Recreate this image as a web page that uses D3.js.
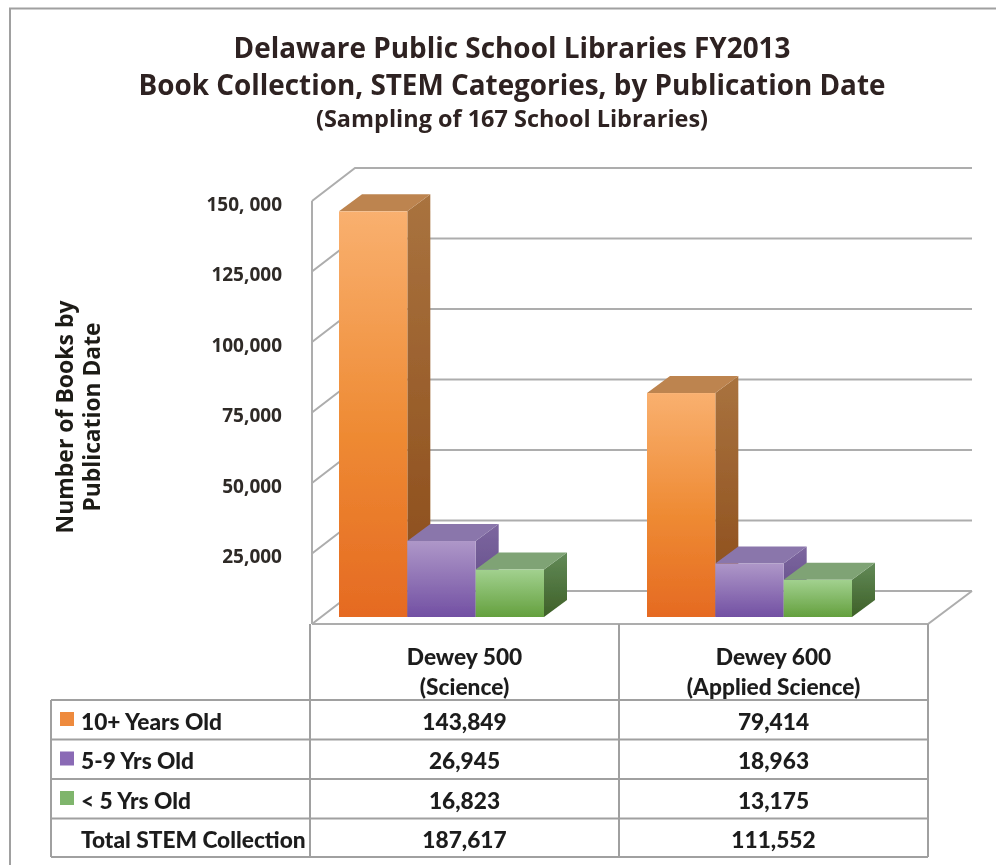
<!DOCTYPE html>
<html>
<head>
<meta charset="utf-8">
<script src="https://cdn.jsdelivr.net/npm/d3@7"></script>
<style>
  html, body { margin: 0; padding: 0; background: #fff; }
  svg { display: block; }
  text { font-family: "Open Sans", sans-serif; }
</style>
</head>
<body>
<script>
var categories = ["Dewey 500", "Dewey 600"];
var categorySubs = ["(Science)", "(Applied Science)"];
var seriesNames = ["10+ Years Old", "5-9 Yrs Old", "< 5 Yrs Old"];
var older = [143849, 79414];
var middle = [26945, 18963];
var newer = [16823, 13175];
var totals = [187617, 111552];
var tickValues = [25000, 50000, 75000, 100000, 125000, 150000];
var tickLabels = ["25,000", "50,000", "75,000", "100,000", "125,000", "150, 000"];

var w = 996, h = 865;
var depthX = 43, depthY = 33;   // floor depth of the 3d box
var barDX = 23, barDY = 17;     // depth of one bar
var floorY = 624, plotL = 312, plotR = 928;
var rows = [700, 739.5, 779, 818.5, 857];
var cols = [51, 310, 619, 928];
var barBase = 617;

var yScale = d3.scaleLinear().domain([0, 150000]).range([floorY, 201]);
var hScale = d3.scaleLinear().domain([0, 150000]).range([0, floorY - 201]);
var xCat = d3.scaleBand().domain(d3.range(2)).range([339, 955]);
var xSer = d3.scaleBand().domain(d3.range(3)).range([0, 205]);

var svg = d3.select("body").append("svg").attr("width", w).attr("height", h);

var defs = svg.append("defs");
defs.append("filter").attr("id", "soft").attr("x", "-5%").attr("y", "-5%").attr("width", "110%").attr("height", "110%")
    .append("feGaussianBlur").attr("stdDeviation", 0.7);

function grad(id, stops) {
    var g = defs.append("linearGradient").attr("id", id)
        .attr("x1", 0).attr("y1", 0).attr("x2", 0).attr("y2", 1);
    stops.forEach(function(s) {
        g.append("stop").attr("offset", s[0]).attr("stop-color", s[1]);
    });
}
var palette = [
    {front: [[0, "#f9b06f"], [0.55, "#ee8a33"], [1, "#e56a22"]], side: [[0, "#a9733f"], [1, "#8a4a18"]], top: "#bd844f", key: "#ee8a3c"},
    {front: [[0, "#ae97c8"], [1, "#7250a3"]], side: [[0, "#7d679f"], [1, "#5b4484"]], top: "#8a76ab", key: "#8a6bb5"},
    {front: [[0, "#a2d18f"], [1, "#64a03e"]], side: [[0, "#628a58"], [1, "#3e6027"]], top: "#7fa375", key: "#7fb56c"}
];
palette.forEach(function(p, i) {
    grad("front" + i, p.front);
    grad("side" + i, p.side);
});

var root = svg.append("g").attr("filter", "url(#soft)");

// outer frame
root.append("path").attr("d", "M10,865V8.5H996").attr("fill", "none").attr("stroke", "#a0a0a0").attr("stroke-width", 2);

// titles
var titleLines = [
    {t: "Delaware Public School Libraries FY2013", y: 58, s: 29, len: 557},
    {t: "Book Collection, STEM Categories, by Publication Date", y: 95, s: 29, len: 747},
    {t: "(Sampling of 167 School Libraries)", y: 127, s: 22.5, len: 392}
];
root.selectAll("text.title").data(titleLines).enter().append("text")
    .attr("class", "title")
    .attr("x", 512).attr("y", function(d) { return d.y; })
    .attr("text-anchor", "middle")
    .attr("font-size", function(d) { return d.s + "px"; })
    .attr("font-weight", 700)
    .attr("textLength", function(d) { return d.len; })
    .attr("lengthAdjust", "spacingAndGlyphs")
    .attr("fill", "#2f2420")
    .text(function(d) { return d.t; });

// 3d box: gridlines
var wall = root.append("g").attr("fill", "none").attr("stroke", "#adadad").attr("stroke-width", 2);
[0].concat(tickValues).forEach(function(v) {
    var y = yScale(v);
    wall.append("path").attr("d", "M" + plotL + "," + y + "L" + (plotL + depthX) + "," + (y - depthY) + "H972");
});
wall.append("path").attr("d", "M" + plotL + "," + yScale(150000) + "V" + floorY);
wall.append("path").attr("d", "M" + plotL + "," + floorY + "H" + plotR + "L972," + (floorY - depthY));

// bars
var series = [older, middle, newer];
var barData = [];
categories.forEach(function(c, ci) {
    series.forEach(function(vals, si) {
        barData.push({ci: ci, si: si, v: vals[ci]});
    });
});
function barX(d) { return xCat(d.ci) + xSer(d.si); }
function barW() { return xSer.bandwidth(); }
function barTop(d) { return barBase - hScale(d.v); }

var bars = root.selectAll("g.bar").data(barData).enter().append("g").attr("class", "bar");
bars.append("path")
    .attr("fill", function(d) { return "url(#side" + d.si + ")"; })
    .attr("d", function(d) {
        var r = barX(d) + barW();
        return "M" + r + "," + barTop(d) + "l" + barDX + "," + (-barDY) + "V" + (barBase - barDY) + "l" + (-barDX) + "," + barDY + "Z";
    });
bars.append("path")
    .attr("fill", function(d) { return palette[d.si].top; })
    .attr("d", function(d) {
        return "M" + barX(d) + "," + barTop(d) + "l" + barDX + "," + (-barDY) + "h" + barW() + "l" + (-barDX) + "," + barDY + "Z";
    });
bars.append("rect")
    .attr("x", barX).attr("y", barTop)
    .attr("width", barW()).attr("height", function(d) { return hScale(d.v); })
    .attr("fill", function(d) { return "url(#front" + d.si + ")"; });

// y axis labels
var yAxis = d3.axisLeft(yScale).tickValues(tickValues).tickSize(0)
    .tickFormat(function(d, i) { return tickLabels[i]; });
var axisG = root.append("g").attr("transform", "translate(282,3)").call(yAxis);
axisG.select(".domain").remove();
axisG.selectAll("text")
    .attr("x", 0).attr("text-anchor", "end")
    .attr("font-family", "'Open Sans', sans-serif")
    .attr("font-size", "19px").attr("font-weight", 700)
    .attr("fill", "#2f2a28");

// y axis title
var yTitle = root.append("g").attr("transform", "translate(0,417) rotate(-90)")
    .attr("text-anchor", "middle").attr("font-size", "24px").attr("font-weight", 700).attr("fill", "#1f1a18");
yTitle.append("text").attr("x", 0).attr("y", 73).attr("textLength", 233).attr("lengthAdjust", "spacingAndGlyphs").text("Number of Books by");
yTitle.append("text").attr("x", 0).attr("y", 100).attr("textLength", 189).attr("lengthAdjust", "spacingAndGlyphs").text("Publication Date");

// table grid
var grid = root.append("g").attr("fill", "none").attr("stroke", "#a0a0a0").attr("stroke-width", 2);
rows.forEach(function(y) {
    grid.append("line").attr("x1", cols[0]).attr("x2", cols[3]).attr("y1", y).attr("y2", y);
});
grid.append("line").attr("x1", cols[0]).attr("x2", cols[0]).attr("y1", rows[0]).attr("y2", rows[4]);
cols.slice(1).forEach(function(x) {
    grid.append("line").attr("x1", x).attr("x2", x).attr("y1", floorY).attr("y2", rows[4]);
});

// table text
var cellFont = "Lato, 'Open Sans', sans-serif";
var colMid = d3.scaleBand().domain(d3.range(2)).range([cols[1], cols[3]]);
function cell(sel) {
    return sel.style("font-family", cellFont)
        .attr("font-size", "22.7px").attr("font-weight", 900).attr("fill", "#1c1c1c");
}
categories.forEach(function(c, i) {
    var x = colMid(i) + colMid.bandwidth() / 2;
    cell(root.append("text")).attr("x", x).attr("y", 665).attr("text-anchor", "middle").text(c);
    cell(root.append("text")).attr("x", x).attr("y", 695).attr("text-anchor", "middle").text(categorySubs[i]);
});

var rowNames = seriesNames.concat(["Total STEM Collection"]);
var rowVals = [older, middle, newer, totals];
var fmt = d3.format(",");
rowNames.forEach(function(name, r) {
    var y = rows[r] + 29.5;
    if (r < 3) {
        root.append("rect").attr("x", 60).attr("y", rows[r] + 12).attr("width", 14).attr("height", 14)
            .attr("fill", palette[r].key);
    }
    cell(root.append("text")).attr("x", 81).attr("y", y).text(name);
    rowVals[r].forEach(function(v, i) {
        cell(root.append("text")).attr("x", colMid(i) + colMid.bandwidth() / 2).attr("y", y)
            .attr("text-anchor", "middle")
            .text(fmt(v));
    });
});
</script>
</body>
</html>
